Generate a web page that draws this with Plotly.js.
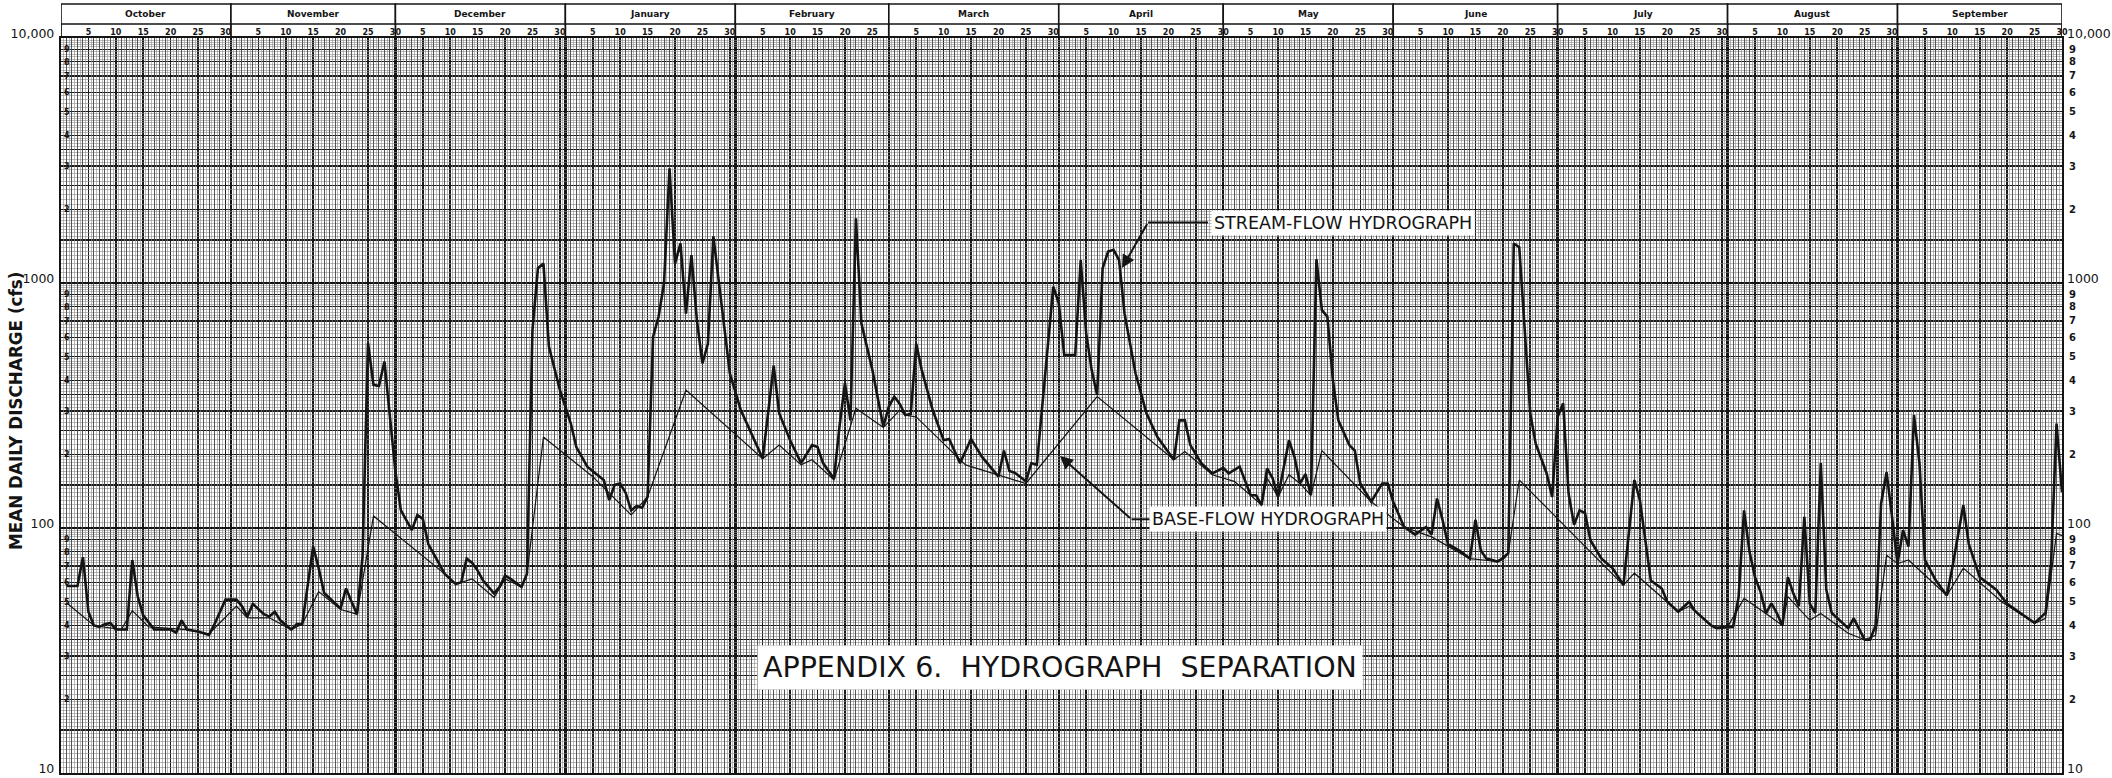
<!DOCTYPE html>
<html><head><meta charset="utf-8">
<script src="https://cdn.plot.ly/plotly-3.0.1.min.js"></script>
<style>html,body{margin:0;padding:0;background:#fff;} #chart{width:2112px;height:778px;}</style>
</head><body><div id="chart"></div>
<script>
// ---------- DATA ----------
const monthNames = ['October','November','December','January','February','March','April','May','June','July','August','September'];
const monthDays = [31,30,31,31,28,31,30,31,30,31,31,30];

// stream-flow hydrograph: day of water year (1 = Oct 1) and mean daily discharge (cfs)
const streamDays = [1,3,4,5,6,7,8,9,10,12,13,14,15,17,20,21,22,23,25,27,28,30,32,33,34,35,37,38,39,40,42,43,44,46,47,48,51,52,53,54,55,56,57,58,59,60,61,62,64,65,66,67,69,70,72,73,74,75,76,77,79,80,81,82,84,85,86,87,88,89,91,93,94,96,99,100,101,102,103,104,105,106,107,108,109,110,111,112,113,114,115,116,117,118,119,120,121,122,124,127,128,130,131,133,135,137,138,139,141,142,143,144,145,146,148,150,151,152,153,154,155,156,157,159,161,162,164,166,168,171,172,173,174,176,177,178,181,182,183,185,186,187,188,189,190,191,192,193,194,196,198,200,203,204,205,206,208,210,212,213,215,217,218,219,220,221,222,224,225,226,227,228,229,230,231,232,233,235,236,237,239,241,242,243,245,247,249,250,251,252,253,255,257,258,259,260,262,263,264,265,266,268,269,271,272,273,274,275,276,277,278,279,281,283,285,287,288,290,292,293,295,297,298,301,302,305,306,307,308,309,310,311,312,313,314,315,316,317,318,319,320,321,322,323,326,327,328,329,330,331,332,333,334,335,336,337,338,339,340,342,344,345,347,348,350,353,355,358,360,362,363,364,365];
const streamCfs = [58,58,76,45.5,40,39.5,40.5,41,38.5,38.5,74,52.5,44,38.5,38.5,37.4,42,38.5,37.8,36.6,40.5,51,51,48,43.5,49,44.5,43.5,45.5,42,38.5,40.5,40.5,84,68.6,54.3,47,56.7,50,44.5,76,569,384,380,478,280,170,118,98,113,109,86,71.5,65,59,60,75,72,67,61,54,57.5,64,62,57.5,65,643,1150,1200,550,366,267,214,178,157,130,150,152,139,118,123,121,134,604,728,1000,2940,1200,1450,750,1300,703,470,565,1550,1000,643,428,303,214,192,460,294,228,184,218,214,184,159,259,390,275,1836,685,442,259,313,344,321,289,292,565,442,303,228,231,184,231,195,162,207,171,168,155,184,181,967,826,508,508,1241,624,442,349,1148,1343,1366,1241,751,428,294,235,190,275,275,218,184,167,176,167,178,136,136,124,175,160,134,228,195,152,166,136,1250,775,728,402,275,218,207,152,128,152,152,128,101,94,101,94,132,108,86,81,75,108,81,75,73,75,79,1450,1400,294,221,167,134,284,323,138,103,118,115,89,75,68.6,58.5,157,130,61,56.6,50,45.5,50,46,40,39,39.5,52,118,80,63,55,44.8,49.3,44.8,40,63,54,48,111,49,45,184,56,45,39,42.8,38.5,35,35,40,126,169,111,71.5,98,84,289,184,74,61,53,69,124,86,63,56,49,44,41,45,71.5,267,140];

// base-flow hydrograph (separated), vertices of the drawn line
const baseDays = [1,6,11,13,16,23,27,32,34,38,42,44,47,51,54,57,70,72,75,79,81,84,85,88,97,104,107,114,128,131,135,137,141,145,150,153,154,156,161,165,176,189,203,205,210,214,217,219,220,222,224,226,228,230,239,245,250,257,262,264,266,285,287,293,295,297,301,304,307,311,314,315,319,321,326,329,331,333,335,337,344,347,354,360,362,364,365];
const baseCfs = [49.5,40,38.5,46,39.5,38.5,37,48,43,43,38.5,40.5,55,46.5,44.5,112,65,59,62,52,62,57.5,65,235,162,113,134,366,192,218,181,190,157,308,257,303,289,284,221,181,152,344,190,205,165,155,136,124,160,134,165,152,136,207,128,101,92,75,73,79,157,58.5,65.4,49.5,45.5,48,40,39.5,51.6,44.8,40,52.5,42,44.8,37.2,35,36.5,77.5,71.5,74,53,68.6,50,40.8,42.8,95,93];

// axis tick labels
const decadeVals = [10,100,1000,10000];
const decadeText = ['10','100','1000','10,000'];
const digitMults = [2,3,4,5,6,7,8,9];
const dayLabelNums = [5,10,15,20,25,30];

const yTitle = 'MEAN DAILY DISCHARGE (cfs)';
const streamLabel = 'STREAM-FLOW HYDROGRAPH';
const baseLabel = 'BASE-FLOW HYDROGRAPH';
const chartTitle = 'APPENDIX 6.\u00a0 HYDROGRAPH\u00a0 SEPARATION';

// ---------- derived grid / tick positions ----------
const monthStarts = [0];
monthDays.forEach(d => monthStarts.push(monthStarts[monthStarts.length-1] + d));
const yearDays = monthStarts[12];
const bounds = new Set(monthStarts);
const fiveDayLines = [];
for (let m = 0; m < 12; m++) for (let k = 5; k < monthDays[m]; k += 5) fiveDayLines.push(monthStarts[m] + k);
const fiveSet = new Set(fiveDayLines);
const dayLines = [], halfDayLines = [];
for (let d = 1; d < yearDays; d++) if (!bounds.has(d) && !fiveSet.has(d)) dayLines.push(d);
for (let d = 0; d < yearDays; d++) halfDayLines.push(d + 0.5);

const dayLabelPos = [], dayLabelText = [];
for (let m = 0; m < 12; m++) dayLabelNums.forEach(k => { if (k <= monthDays[m]) { dayLabelPos.push(monthStarts[m] + k); dayLabelText.push(String(k)); } });

const heavyMult = [1.5,2,2.5,3,3.5,4,5,6,7,8,9];
const heavyLines = [], fineLines = [], digitVals = [], digitText = [];
[10,100,1000].forEach(b => {
  heavyMult.forEach(m => heavyLines.push(b*m));
  digitMults.forEach(m => { digitVals.push(b*m); digitText.push(String(m)); });
  for (let i = 21; i < 40; i++) { const m = i/20; if (!heavyMult.includes(m)) fineLines.push(b*m); }
  for (let i = 21; i < 50; i++) { const m = i/10; if (!heavyMult.includes(m)) fineLines.push(b*m); }
  for (let i = 26; i < 50; i++) { const m = i/5; if (!heavyMult.includes(m)) fineLines.push(b*m); }
});

// ---------- geometry helpers (pixel -> paper) ----------
const L = 61, R = 50, T = 38, B = 5, W = 2112, H = 778;
const PW = W - L - R, PH = H - T - B;
const px = X => (X - L) / PW;
const py = Y => (H - B - Y) / PH;

const INK = '#141414';
const traces = [
  {x: baseDays, y: baseCfs, mode: 'lines', line: {color: INK, width: 1.2}, xaxis: 'x', yaxis: 'y', hoverinfo: 'skip'},
  {x: streamDays, y: streamCfs, mode: 'lines', line: {color: INK, width: 2.6}, xaxis: 'x', yaxis: 'y', hoverinfo: 'skip'}
];
// empty carrier traces so that every overlaying axis (grids / tick labels) gets drawn
[['x2','y'],['x3','y'],['x','y2'],['x','y3'],['x','y4'],['x','y5']].forEach(p =>
  traces.push({x: [], y: [], mode: 'lines', xaxis: p[0], yaxis: p[1], hoverinfo: 'skip', showlegend: false}));

const shapes = [];
const annotations = [];
for (let m = 0; m < 12; m++) {
  shapes.push({type: 'rect', xref: 'x', yref: 'paper', x0: monthStarts[m], x1: monthStarts[m+1], y0: py(24), y1: py(4), line: {color: INK, width: 1.6}, fillcolor: '#fff', layer: 'above'});
  annotations.push({xref: 'x', yref: 'paper', x: (monthStarts[m] + monthStarts[m+1]) / 2, y: py(14.5), text: '<b>' + monthNames[m] + '</b>', showarrow: false, font: {family: 'DejaVu Sans', size: 9, color: INK}, xanchor: 'center', yanchor: 'middle'});
}
monthStarts.forEach(s => shapes.push({type: 'line', xref: 'x', yref: 'paper', x0: s, x1: s, y0: 1, y1: py(24), line: {color: INK, width: 1.8}}));

// leader lines
shapes.push({type: 'line', xref: 'paper', yref: 'paper', x0: px(1148), x1: px(1208), y0: py(222.5), y1: py(222.5), line: {color: INK, width: 2}});
shapes.push({type: 'line', xref: 'paper', yref: 'paper', x0: px(1131.5), x1: px(1152), y0: py(519.3), y1: py(519.3), line: {color: INK, width: 2}});

annotations.push({xref: 'paper', yref: 'paper', x: px(1122), y: py(268), ax: 26, ay: -45.5, axref: 'pixel', ayref: 'pixel', text: '', showarrow: true, arrowhead: 2, arrowsize: 1.3, arrowwidth: 2, arrowcolor: INK, standoff: 0});
annotations.push({xref: 'paper', yref: 'paper', x: px(1060), y: py(456), ax: 71.5, ay: 63.3, axref: 'pixel', ayref: 'pixel', text: '', showarrow: true, arrowhead: 2, arrowsize: 1.3, arrowwidth: 2, arrowcolor: INK, standoff: 0});

annotations.push({xref: 'paper', yref: 'paper', x: px(1343), y: py(222.5), text: streamLabel, showarrow: false, font: {family: 'DejaVu Sans', size: 17.5, color: INK}, bgcolor: '#fff', borderpad: 2, xanchor: 'center', yanchor: 'middle'});
annotations.push({xref: 'paper', yref: 'paper', x: px(1268), y: py(519.3), text: baseLabel, showarrow: false, font: {family: 'DejaVu Sans', size: 17.5, color: INK}, bgcolor: '#fff', borderpad: 2, xanchor: 'center', yanchor: 'middle'});
annotations.push({xref: 'paper', yref: 'paper', x: px(1060), y: py(667), text: chartTitle, showarrow: false, font: {family: 'DejaVu Sans', size: 28.5, color: INK}, bgcolor: '#fff', borderpad: 5, xanchor: 'center', yanchor: 'middle'});
annotations.push({xref: 'paper', yref: 'paper', x: px(16), y: py(411), text: '<b>' + yTitle + '</b>', textangle: -90, showarrow: false, font: {family: 'DejaVu Sans', size: 16.8, color: INK}, xanchor: 'center', yanchor: 'middle'});

const logAx = {type: 'log', range: [1, 4], zeroline: false, ticks: '', fixedrange: true};
const bigFont = {family: 'DejaVu Sans', size: 12.5, color: INK};
const layout = {
  width: W, height: H,
  margin: {l: L, r: R, t: T, b: B, pad: 0},
  paper_bgcolor: '#fff', plot_bgcolor: '#fff',
  showlegend: false,
  font: {family: 'DejaVu Sans', color: INK},
  xaxis: {range: [0, yearDays], tickmode: 'array', tickvals: monthStarts, showgrid: true, gridcolor: INK, gridwidth: 2.4, showticklabels: false, ticks: '', zeroline: false, showline: true, linecolor: INK, linewidth: 2.2, mirror: true,
    minor: {tickmode: 'array', tickvals: fiveDayLines, showgrid: true, gridcolor: '#1a1a1a', gridwidth: 1.5, ticks: ''}},
  xaxis2: {overlaying: 'x', anchor: 'y', range: [0, yearDays], tickmode: 'array', tickvals: dayLines, showgrid: true, gridcolor: '#444', gridwidth: 0.9, showticklabels: false, ticks: '', zeroline: false,
    minor: {tickmode: 'array', tickvals: halfDayLines, showgrid: true, gridcolor: '#8c8c8c', gridwidth: 0.6, ticks: ''}},
  xaxis3: {overlaying: 'x', anchor: 'y', side: 'top', range: [0, yearDays], tickmode: 'array', tickvals: dayLabelPos, ticktext: dayLabelText, showgrid: false, ticks: '', zeroline: false, tickangle: 0, tickfont: {family: 'DejaVu Sans', size: 8, weight: 'bold', color: INK}},
  yaxis: Object.assign({}, logAx, {tickmode: 'array', tickvals: decadeVals, ticktext: decadeText, showgrid: true, gridcolor: INK, gridwidth: 2.8, ticklabeloverflow: 'allow', ticklabelshift: -4, ticklabelstandoff: 2, tickfont: bigFont, showline: true, linecolor: INK, linewidth: 2.2, mirror: true,
    minor: {tickmode: 'array', tickvals: heavyLines, showgrid: true, gridcolor: '#1a1a1a', gridwidth: 1.3, ticks: ''}}),
  yaxis2: Object.assign({}, logAx, {overlaying: 'y', anchor: 'x', side: 'right', tickmode: 'array', tickvals: decadeVals, ticktext: decadeText, showgrid: false, ticklabeloverflow: 'allow', ticklabelshift: -4, ticklabelstandoff: 4, tickfont: bigFont}),
  yaxis3: Object.assign({}, logAx, {overlaying: 'y', anchor: 'x', side: 'right', tickmode: 'array', tickvals: digitVals, ticktext: digitText, showgrid: false, ticklabelstandoff: 6, tickfont: {family: 'DejaVu Sans', size: 10, weight: 'bold', color: INK}}),
  yaxis4: Object.assign({}, logAx, {overlaying: 'y', anchor: 'x', side: 'left', ticklabelposition: 'inside', tickmode: 'array', tickvals: digitVals, ticktext: digitText, showgrid: false, tickfont: {family: 'DejaVu Sans', size: 8, weight: 'bold', color: INK}}),
  yaxis5: Object.assign({}, logAx, {overlaying: 'y', anchor: 'x', tickmode: 'array', tickvals: fineLines, showgrid: true, gridcolor: '#8c8c8c', gridwidth: 0.6, showticklabels: false}),
  shapes: shapes,
  annotations: annotations
};
Plotly.newPlot('chart', traces, layout, {staticPlot: true, displayModeBar: false});
</script>
</body></html>
